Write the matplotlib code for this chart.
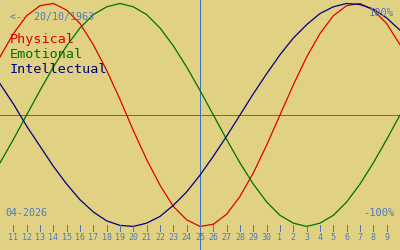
import matplotlib
matplotlib.use("Agg")
import matplotlib.pyplot as plt

# days shown along the bottom: 10 Apr .. 10 May 2026 (first/last sit on the edges)
day_labels = [str(d) for d in range(10, 31)] + [str(d) for d in range(1, 11)]

# biorhythm values in percent, one per day
physical = [52, 73, 89, 98, 100, 94, 82, 63, 40, 14, -14, -40, -63, -82, -94, -100,
            -98, -89, -73, -52, -27, 0, 27, 52, 73, 89, 98, 100, 94, 82, 63]
emotional = [-43, -22, 0, 22, 43, 62, 78, 90, 97, 100, 97, 90, 78, 62, 43, 22,
             0, -22, -43, -62, -78, -90, -97, -100, -97, -90, -78, -62, -43, -22, 0]
intellectual = [28, 10, -10, -28, -46, -62, -76, -87, -95, -99, -100, -97, -91, -81, -69, -54,
                -37, -19, 0, 19, 37, 54, 69, 81, 91, 97, 100, 99, 95, 87, 76]

birth = "20/10/1963"
month = "04-2026"
today_idx = 15  # 25 April

BG = "#e0d282"
BLUE = "#4a7ac6"
MONO = "DejaVu Sans Mono"

fig = plt.figure(figsize=(4, 2.5), dpi=100, facecolor=BG)
ax = fig.add_axes([0, 0, 1, 1])
ax.set_facecolor(BG)
ax.set_xlim(0, len(day_labels) - 1)
ax.set_ylim(-121.1, 103.1)
ax.axis("off")

x = list(range(len(day_labels)))
ax.axhline(0, color="#3a70c0", lw=0.72, antialiased=False)
ax.axvline(today_idx, color="#3a70c0", lw=0.72, antialiased=False)

ax.plot(x, physical, color="#e00000", lw=0.9)
ax.plot(x, emotional, color="#007000", lw=0.9)
ax.plot(x, intellectual, color="#000080", lw=0.9)

# small tick marks and day numbers along the bottom
ax.vlines(x[1:-1], -98.7, -104, color=BLUE, lw=0.72, antialiased=False)
for i in x[1:-1]:
    ax.text(i, -110.3, day_labels[i], color=BLUE, fontsize=6, family=MONO,
            ha="center", va="center")

ax.text(0.025, 0.92, "<-- " + birth, transform=ax.transAxes, color=BLUE,
        fontsize=7.2, family=MONO, va="baseline")
ax.text(0.025, 0.828, "Physical", transform=ax.transAxes, color="#e00000",
        fontsize=9.7, family=MONO, va="baseline")
ax.text(0.025, 0.768, "Emotional", transform=ax.transAxes, color="#007000",
        fontsize=9.7, family=MONO, va="baseline")
ax.text(0.025, 0.708, "Intellectual", transform=ax.transAxes, color="#000080",
        fontsize=9.7, family=MONO, va="baseline")

ax.text(0.985, 0.936, "100%", transform=ax.transAxes, color=BLUE,
        fontsize=7.5, family=MONO, ha="right", va="baseline")
ax.text(0.985, 0.136, "-100%", transform=ax.transAxes, color=BLUE,
        fontsize=7.5, family=MONO, ha="right", va="baseline")
ax.text(0.0125, 0.136, month, transform=ax.transAxes, color=BLUE,
        fontsize=7.2, family=MONO, va="baseline")

fig.savefig("out.png", dpi=100, facecolor=BG)
